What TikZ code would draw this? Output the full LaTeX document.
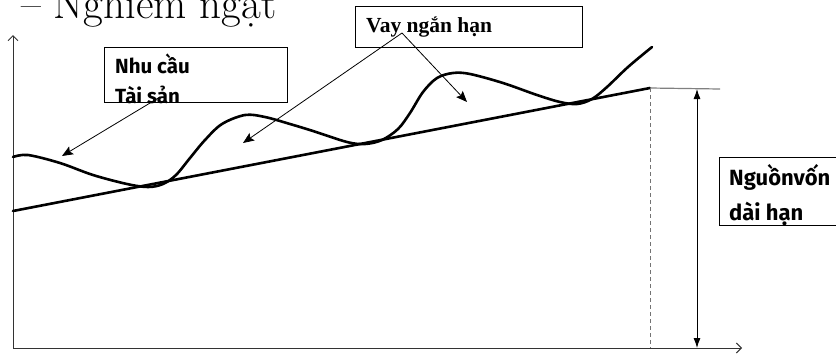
\documentclass[tikz,border=0pt]{standalone}
\usepackage{fontspec}
\setmainfont{Latin Modern Roman}
\newfontfamily\labelsans{Fira Sans}
\newfontfamily\labelserif{Liberation Serif}
\usetikzlibrary{arrows.meta}

\tikzset{
  axis/.style={line width=1bp, draw=black!80, -{Straight Barb[length=5bp,width=10bp]}},
  trend/.style={line width=2.6bp, line join=round, line cap=round},
  frame/.style={draw, line width=0.9bp, inner sep=0pt},
  pointer/.style={line width=0.8bp, -{Stealth[length=11bp,width=9bp,inset=2bp]}},
  sanslabel/.style={anchor=base west, inner sep=0pt, font=\labelsans\bfseries},
  guide/.style={draw=black!50, line width=1.2bp},
}

\begin{document}
\begin{tikzpicture}[x=1bp,y=-1bp]
  \clip (0,0) rectangle (836,354);

  % heading
  \node[anchor=base west, inner sep=0pt, font=\fontsize{43bp}{43bp}\selectfont] (title) at (21,18) {– Nghiêm ngặt};

  % axes
  \coordinate (O) at (13,348);
  \coordinate (ytop) at (13,35);
  \coordinate (xend) at (742,348);
  \draw[axis] (O) -- (ytop);
  \draw[axis] (O) -- (xend);

  % long-term funding line
  \coordinate (lt0) at (13,211);
  \coordinate (lt1) at (650,88);
  \draw[trend] (lt0) -- (lt1);

  % asset requirement curve
  \draw[trend] plot[smooth, tension=0.55] coordinates {
    (13,157) (28,155) (60,163) (93,175) (127,184) (148,187) (163,184)
    (176,175) (190,158) (205,140) (222,124) (245,115) (265,117)
    (290,124) (313,131) (347,142) (365,144) (382,140) (398,129)
    (410,113) (423,92) (437,78) (453,73) (470,74) (503,83) (537,95)
    (560,102) (577,104) (592,99) (607,87) (628,67) (652,47)};

  % level marker for long-term funding
  \coordinate (mk) at (720,89);
  \coordinate (ltfoot) at (650,348);
  \coordinate (spanTop) at (697,89);
  \coordinate (spanBot) at (697,348);
  \draw[guide] (lt1) -- (mk);
  \draw[draw=black!55, line width=1bp, dash pattern=on 4bp off 3bp] (lt1) -- (ltfoot);
  \draw[line width=0.9bp, {Latex[length=10bp,width=7bp]}-{Latex[length=10bp,width=7bp]}] (spanTop) -- (spanBot);

  % pointers
  \coordinate (needSrc) at (160,97);
  \coordinate (needTip) at (62,156);
  \draw[pointer] (needSrc) -- (needTip);
  \coordinate (loanSrc) at (402,33);
  \coordinate (loanTipL) at (243,143);
  \coordinate (loanTipR) at (467,102);
  \draw[pointer] (loanSrc) -- (loanTipL);
  \draw[pointer] (loanSrc) -- (loanTipR);

  % label boxes
  \node[frame, minimum width=183bp, minimum height=55bp] (needBox) at (195.5,74.5) {};
  \node[sanslabel, font=\labelsans\bfseries\fontsize{20.5bp}{20.5bp}\selectfont] (need1) at (115,73) {Nhu cầu};
  \node[sanslabel, font=\labelsans\bfseries\fontsize{20.5bp}{20.5bp}\selectfont] (need2) at (115,103) {Tài sản};

  \node[frame, minimum width=227bp, minimum height=41bp] (loanBox) at (468.5,26.5) {};
  \node[anchor=base west, inner sep=0pt, font=\labelserif\bfseries\fontsize{21.5bp}{21.5bp}\selectfont] (loanText) at (366,32) {Vay ngắn hạn};

  \node[frame, fill=white, minimum width=140bp, minimum height=68bp] (fundBox) at (789,191) {};
  \node[sanslabel, font=\labelsans\bfseries\fontsize{22bp}{22bp}\selectfont] (fund1) at (729,185) {Nguồnvốn};
  \node[sanslabel, font=\labelsans\bfseries\fontsize{22bp}{22bp}\selectfont] (fund2) at (729,220) {dài hạn};
\end{tikzpicture}
\end{document}
